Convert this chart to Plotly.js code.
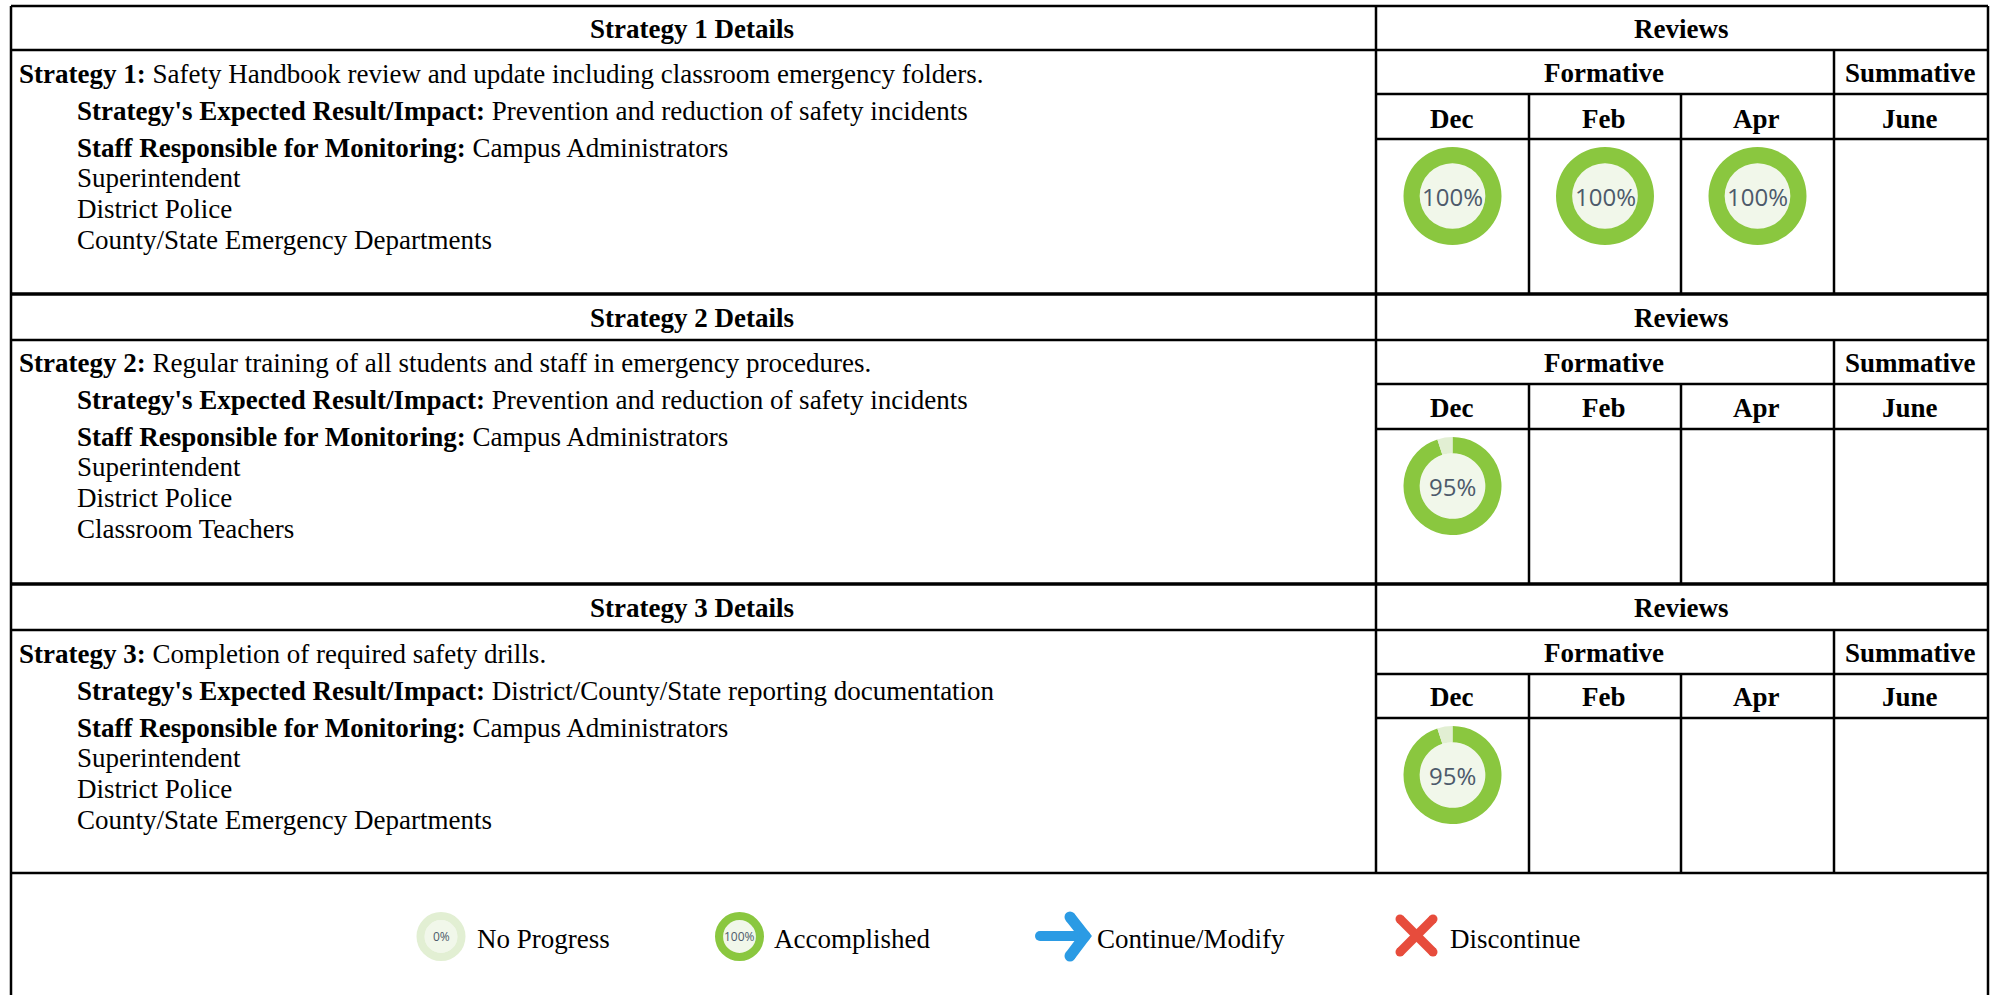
<!DOCTYPE html>
<html><head><meta charset="utf-8">
<script src="https://cdn.plot.ly/plotly-3.0.0.min.js"></script>
<style>html,body{margin:0;padding:0;background:#fff}</style></head>
<body><div id="chart" style="width:1997px;height:995px"></div>
<script>
const strategyTitles = ["Strategy 1 Details","Strategy 2 Details","Strategy 3 Details"];
const strategyNames = ["Strategy 1:","Strategy 2:","Strategy 3:"];
const strategyTexts = ["Safety Handbook review and update including classroom emergency folders.",
 "Regular training of all students and staff in emergency procedures.",
 "Completion of required safety drills."];
const impacts = ["Prevention and reduction of safety incidents","Prevention and reduction of safety incidents","District/County/State reporting documentation"];
const staff = [["Superintendent","District Police","County/State Emergency Departments"],
 ["Superintendent","District Police","Classroom Teachers"],
 ["Superintendent","District Police","County/State Emergency Departments"]];
const months = ["Dec","Feb","Apr","June"];
const reviews = [[100,100,100,null],[95,null,null,null],[95,null,null,null]];
const legendLabels = ["No Progress","Accomplished","Continue/Modify","Discontinue"];
const legendValues = [0,100];

const W=1997,H=995;
const grid=[[6,50,94,139,294],[294,340,384,429,584],[584,630,674,718,873]];
const textShift=[1.2,0.3,1];
const colX=[1376,1529,1681,1834,1988], L=11;
const GREEN='#8AC73F', LIGHT='#E2EFD3', DISK='#F1F7EA', FS=27;
const shapes=[],ann=[],traces=[];
const line=(x0,y0,x1,y1,w)=>shapes.push({type:'line',xref:'x',yref:'y',x0,y0,x1,y1,line:{color:'#000',width:w}});
const txt=(x,y,text,opt={})=>ann.push(Object.assign({xref:'x',yref:'y',x,y,text,showarrow:false,xanchor:'left',yanchor:'middle',
  font:{family:'"Liberation Serif",serif',size:FS,color:'#000'}},opt));
const cTxt=(x,y,t)=>txt(x,y,'<b>'+t+'</b>',{xanchor:'center'});
function donut(cx,cy,r,val,fs){
  shapes.push({type:'circle',xref:'x',yref:'y',layer:'below',x0:cx-r*.67,x1:cx+r*.67,y0:cy-r*.67,y1:cy+r*.67,fillcolor:DISK,line:{width:0}});
  traces.push({type:'pie',values:[val,100-val],sort:false,direction:'clockwise',rotation:0,hole:.67,textinfo:'none',hoverinfo:'skip',showlegend:false,
    marker:{colors:[GREEN,LIGHT],line:{width:0}},
    domain:{x:[(cx-r)/W,(cx+r)/W],y:[1-(cy+r)/H,1-(cy-r)/H]}});
  txt(cx,cy,val+'%',{xanchor:'center',font:{family:'"Open Sans",sans-serif',size:fs,color:'#4D5A6B'}});
}
grid.forEach((g,i)=>{
  const t=g[0];
  line(L,t,1988,t,i?3.5:2.5);
  line(L,g[1],1988,g[1],2.5);
  line(colX[0],g[2],1988,g[2],2.5);
  line(colX[0],g[3],1988,g[3],2.5);
  line(colX[3],g[1],colX[3],g[4],2.5);
  [1,2].forEach(c=>line(colX[c],g[2],colX[c],g[4],2.5));
  cTxt(692,(g[0]+g[1])/2+1,strategyTitles[i]);
  cTxt(1681,(g[0]+g[1])/2+1,'Reviews');
  cTxt(1604,(g[1]+g[2])/2+1,'Formative');
  cTxt(1910,(g[1]+g[2])/2+1,'Summative');
  months.forEach((m,c)=>cTxt((colX[c]+colX[c+1])/2-1,(g[2]+g[3])/2+1+(i?0:1),m));
  const b=g[1]+textShift[i];
  txt(17,b+23,'<b>'+strategyNames[i]+'</b> '+strategyTexts[i]);
  txt(74.5,b+60,"<b>Strategy's Expected Result/Impact:</b> "+impacts[i]);
  txt(74.5,b+97,'<b>Staff Responsible for Monitoring:</b> '+'Campus Administrators');
  staff[i].forEach((s,k)=>txt(74.5,b+127+k*31,s));
  reviews[i].forEach((v,c)=>{ if(v!==null) donut((colX[c]+colX[c+1])/2,g[3]+57,49,v,24); });
});
line(L,873,1988,873,2.5);
line(L,6,L,995,2.5); line(1988,6,1988,995,2.5); line(colX[0],6,colX[0],873,2.5);

const legendY=936.5, labelY=938.5;
donut(441,legendY,24.5,legendValues[0],12);
donut(739.5,legendY,24.5,legendValues[1],12);
txt(474.5,labelY,legendLabels[0]); txt(772,labelY,legendLabels[1]);
txt(1095,labelY,legendLabels[2]); txt(1448,labelY,legendLabels[3]);
const icon=(x,y,color,w)=>traces.push({type:'scatter',mode:'lines+markers',x,y,hoverinfo:'skip',showlegend:false,
  line:{color,width:w},marker:{color,size:w,line:{width:0}},cliponaxis:false});
icon([1040,1085],[936,936],'#2B9BE4',10);
icon([1070,1085,1070],[917,936,956],'#2B9BE4',11);
icon([1400,1433],[919,952],'#E74C3C',9);
icon([1433,1400],[919,952],'#E74C3C',9);

Plotly.newPlot('chart',traces,{width:W,height:H,margin:{l:0,r:0,t:0,b:0},paper_bgcolor:'#fff',plot_bgcolor:'rgba(0,0,0,0)',
  xaxis:{range:[0,W],visible:false,fixedrange:true},yaxis:{range:[H,0],visible:false,fixedrange:true},
  shapes,annotations:ann,showlegend:false},{staticPlot:true,displayModeBar:false});
</script></body></html>
